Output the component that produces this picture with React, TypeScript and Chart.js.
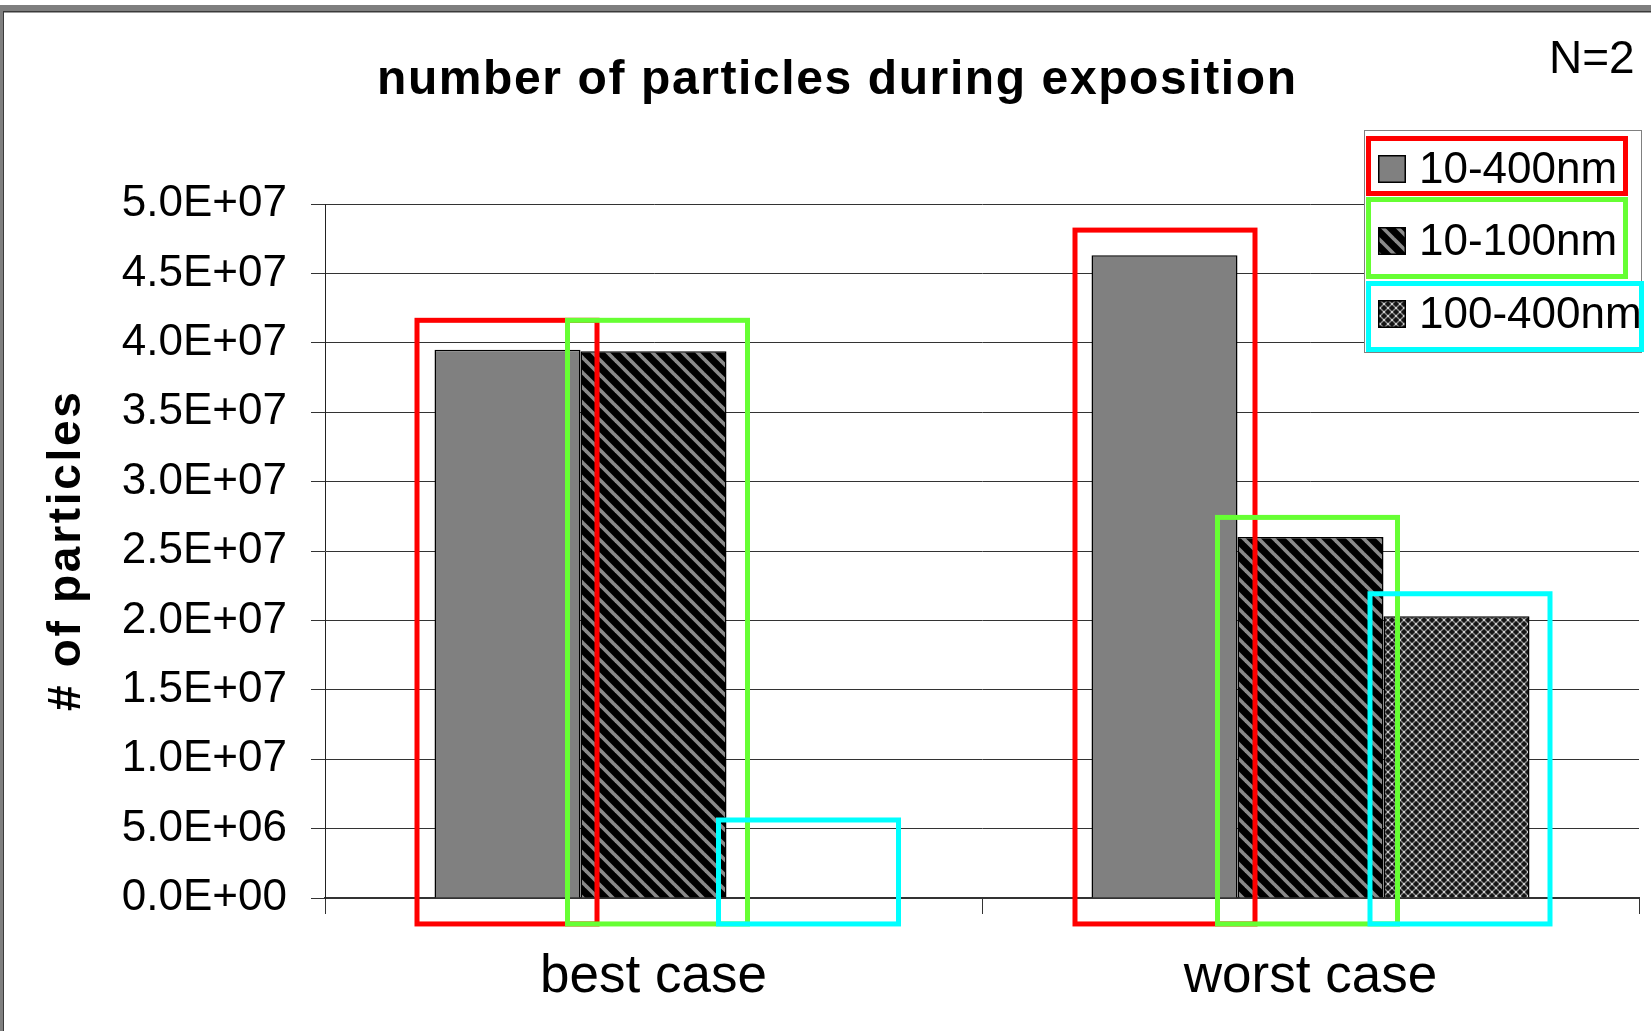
import React, { useEffect, useRef } from 'react';
import { Chart, registerables } from 'chart.js';

Chart.register(...registerables);

// ---------- data ----------
const categories = ['best case', 'worst case'];
const seriesLabels = ['10-400nm', '10-100nm', '100-400nm'];
const series10to400 = [3.95e7, 4.63e7];
const series10to100 = [3.94e7, 2.6e7];
const series100to400 = [0, 2.03e7];
const yTickLabels = [
  '0.0E+00', '5.0E+06', '1.0E+07', '1.5E+07', '2.0E+07', '2.5E+07',
  '3.0E+07', '3.5E+07', '4.0E+07', '4.5E+07', '5.0E+07',
];
const yMin = 0;
const yMax = 5e7;
const yStep = 5e6;
// tops of the coloured highlight frames (data units), per series, per category
const highlightTop10to400 = [4.18e7, 4.83e7];
const highlightTop10to100 = [4.18e7, 2.76e7];
const highlightTop100to400 = [0.58e7, 2.21e7];
const highlightBottom = -0.205e7;
const titleText = 'number of particles during exposition';
const cornerNote = 'N=2';
const yAxisTitle = '# of particles';

const FONT = '"Liberation Sans", Arial, Helvetica, sans-serif';
const HL_COLORS = ['#ff0000', '#66ff33', '#00ffff'];

function makeStripePattern(ctx: CanvasRenderingContext2D): CanvasPattern {
  const s = 15;
  const c = document.createElement('canvas');
  c.width = s;
  c.height = s;
  const g = c.getContext('2d')!;
  g.fillStyle = '#000';
  g.fillRect(0, 0, s, s);
  g.strokeStyle = '#8a8a8a';
  g.lineWidth = 3.6;
  for (const o of [-s, 0, s]) {
    g.beginPath();
    g.moveTo(o - 3, -3);
    g.lineTo(o + s + 3, s + 3);
    g.stroke();
  }
  return ctx.createPattern(c, 'repeat')!;
}

function makeCrossPattern(ctx: CanvasRenderingContext2D): CanvasPattern {
  const s = 8;
  const c = document.createElement('canvas');
  c.width = s;
  c.height = s;
  const g = c.getContext('2d')!;
  g.fillStyle = '#151515';
  g.fillRect(0, 0, s, s);
  g.strokeStyle = '#8c8c8c';
  g.lineWidth = 1.4;
  for (const o of [-s, 0, s]) {
    g.beginPath();
    g.moveTo(o - 2, -2);
    g.lineTo(o + s + 2, s + 2);
    g.stroke();
    g.beginPath();
    g.moveTo(o - 2, s + 2);
    g.lineTo(o + s + 2, -2);
    g.stroke();
  }
  g.fillStyle = '#d0d0d0';
  g.fillRect(s / 2 - 1, s / 2 - 1, 2, 2);
  g.fillRect(0, 0, 1, 1);
  g.fillRect(s - 1, 0, 1, 1);
  g.fillRect(0, s - 1, 1, 1);
  g.fillRect(s - 1, s - 1, 1, 1);
  return ctx.createPattern(c, 'repeat')!;
}

export default function App() {
  const ref = useRef<HTMLCanvasElement | null>(null);

  useEffect(() => {
    const canvas = ref.current!;
    const ctx = canvas.getContext('2d')!;
    const stripe = makeStripePattern(ctx);
    const cross = makeCrossPattern(ctx);
    const fills: any[] = ['#808080', stripe, cross];
    const tops = [highlightTop10to400, highlightTop10to100, highlightTop100to400];
    const nudges = [[-0.5, 0.5], [4, -3], [9, 3.5]];

    const backgroundPlugin = {
      id: 'bgframe',
      beforeDraw(chart: any) {
        const c = chart.ctx;
        c.save();
        c.fillStyle = '#ffffff';
        c.fillRect(0, 0, chart.width, chart.height);
        c.fillStyle = '#7f7f7f';
        c.fillRect(0, 5, chart.width, 7);
        c.fillRect(0, 5, 3, chart.height - 5);
        c.fillStyle = '#3a3a3a';
        c.fillRect(3, 11, chart.width - 3, 1.5);
        c.fillRect(3, 11, 1, chart.height - 11);
        c.restore();
      },
    };

    const highlightPlugin = {
      id: 'highlights',
      afterDatasetsDraw(chart: any) {
        const c = chart.ctx;
        const yScale = chart.scales.y;
        c.save();
        c.lineWidth = 5;
        for (let j = 0; j < categories.length; j++) {
          for (let i = 0; i < seriesLabels.length; i++) {
            const bar = chart.getDatasetMeta(i).data[j];
            const { x, width } = bar.getProps(['x', 'width'], true);
            const half = width / 2 + 19.5;
            const left = x - half + nudges[i][j];
            const right = x + half + nudges[i][j];
            const top = yScale.getPixelForValue(tops[i][j]);
            const bottom = yScale.getPixelForValue(highlightBottom);
            c.strokeStyle = HL_COLORS[i];
            c.strokeRect(left + 2.5, top + 2.5, right - left - 5, bottom - top - 5);
          }
        }
        c.restore();
      },
    };

    const decorPlugin = {
      id: 'decor',
      afterDraw(chart: any) {
        const c = chart.ctx;
        c.save();
        // legend box
        c.fillStyle = '#ffffff';
        c.fillRect(1364, 130, 278, 223);
        c.strokeStyle = '#808080';
        c.lineWidth = 1;
        c.strokeRect(1364.5, 130.5, 277, 222);
        const swatchTops = [155, 227, 300];
        c.font = `44px ${FONT}`;
        c.textBaseline = 'middle';
        c.textAlign = 'left';
        for (let i = 0; i < seriesLabels.length; i++) {
          const sy = swatchTops[i];
          c.fillStyle = fills[i];
          c.fillRect(1378, sy, 28, 28);
          c.strokeStyle = '#000';
          c.lineWidth = 1.5;
          c.strokeRect(1378.75, sy + 0.75, 26.5, 26.5);
          c.fillStyle = '#000';
          c.fillText(chart.data.datasets[i].label, 1419, sy + 16);
        }
        // legend highlight frames
        const lframes = [
          [1366, 136, 1628, 196],
          [1366, 197, 1628, 279],
          [1366, 281, 1644, 352],
        ];
        c.lineWidth = 5;
        lframes.forEach((f, i) => {
          c.strokeStyle = HL_COLORS[i];
          c.strokeRect(f[0] + 2.5, f[1] + 2.5, f[2] - f[0] - 5, f[3] - f[1] - 5);
        });

        // title
        c.fillStyle = '#000';
        c.textBaseline = 'alphabetic';
        c.font = `bold 48px ${FONT}`;
        (c as any).letterSpacing = '1.6px';
        c.fillText(titleText, 377, 94);
        (c as any).letterSpacing = '0px';

        // N=2
        c.font = `46px ${FONT}`;
        c.fillText(cornerNote, 1549, 73);

        // y axis title
        c.save();
        c.translate(80, 711);
        c.rotate(-Math.PI / 2);
        c.font = `bold 46px ${FONT}`;
        (c as any).letterSpacing = '2.7px';
        c.fillText(yAxisTitle, 0, 0);
        (c as any).letterSpacing = '0px';
        c.restore();

        c.restore();
      },
    };

    const chart = new Chart(canvas, {
      type: 'bar',
      data: {
        labels: categories,
        datasets: [
          { label: seriesLabels[0], data: series10to400, backgroundColor: fills[0], borderColor: '#000', borderWidth: 1.5 },
          { label: seriesLabels[1], data: series10to100, backgroundColor: fills[1], borderColor: '#000', borderWidth: 1.5 },
          { label: seriesLabels[2], data: series100to400, backgroundColor: fills[2], borderColor: '#000', borderWidth: 1.5 },
        ],
      },
      options: {
        responsive: false,
        animation: false,
        devicePixelRatio: 1,
        datasets: { bar: { categoryPercentage: 3 / 4.5, barPercentage: 1 } },
        layout: { padding: { top: 204, right: 12, left: 0, bottom: 0 } },
        font: { family: FONT },
        plugins: {
          legend: { display: false },
          tooltip: { enabled: false },
          title: { display: false },
        },
        scales: {
          x: {
            grid: { drawOnChartArea: false, tickLength: 16, color: '#333', offset: true },
            border: { color: '#333', width: 2 },
            ticks: { font: { family: FONT, size: 53 }, color: '#000', padding: 32 },
            afterFit: (s: any) => { s.height = 133; },
          },
          y: {
            min: yMin,
            max: yMax,
            ticks: {
              stepSize: yStep,
              font: { family: FONT, size: 44 },
              color: '#000',
              padding: 24,
              callback: (_v: any, i: number) => yTickLabels[i],
            },
            grid: { color: '#333', tickLength: 14, lineWidth: 1 },
            border: { color: '#222', width: 1 },
            afterFit: (s: any) => { s.width = 325; },
          },
        },
      } as any,
      plugins: [backgroundPlugin, highlightPlugin, decorPlugin],
    });
    return () => chart.destroy();
  }, []);

  return (
    <div style={{ position: 'absolute', left: 0, top: 0, width: 1651, height: 1031 }}>
      <canvas ref={ref} width={1651} height={1031} style={{ width: 1651, height: 1031, display: 'block' }} />
    </div>
  );
}
